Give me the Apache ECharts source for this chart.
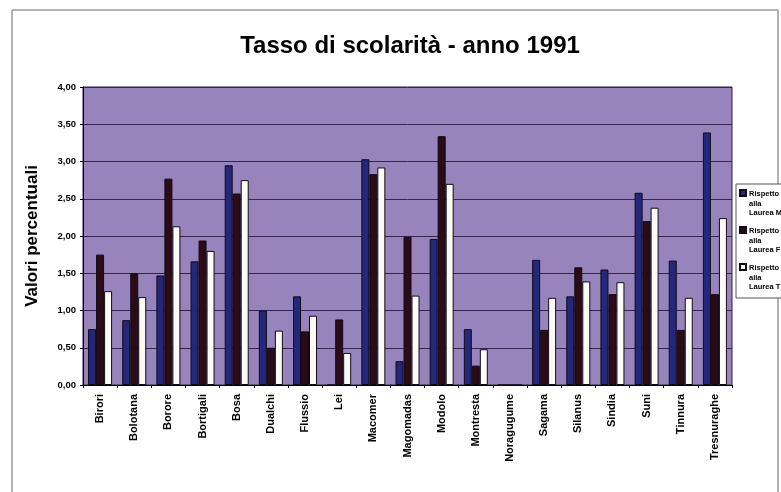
<!DOCTYPE html>
<html>
<head>
<meta charset="utf-8">
<title>Tasso di scolarità - anno 1991</title>
<script src="https://cdn.jsdelivr.net/npm/echarts@6/dist/echarts.min.js"></script>
<style>
  html, body { margin: 0; padding: 0; background: #ffffff; }
  #chart { width: 781px; height: 492px; }
</style>
</head>
<body>
<div id="chart"></div>
<script>
// Comuni
var comuni = ['Birori', 'Bolotana', 'Borore', 'Bortigali', 'Bosa', 'Dualchi', 'Flussio', 'Lei',
  'Macomer', 'Magomadas', 'Modolo', 'Montresta', 'Noragugume', 'Sagama', 'Silanus', 'Sindia',
  'Suni', 'Tinnura', 'Tresnuraghe'];

// Valori percentuali per serie
var laureaM = [0.75, 0.87, 1.47, 1.66, 2.95, 1.00, 1.19, 0.00, 3.03, 0.32, 1.96, 0.75, 0.00, 1.68, 1.19, 1.55, 2.58, 1.67, 3.39];
var laureaF = [1.75, 1.50, 2.77, 1.94, 2.57, 0.50, 0.72, 0.88, 2.83, 1.99, 3.34, 0.26, 0.00, 0.74, 1.58, 1.22, 2.20, 0.74, 1.22];
var laureaT = [1.26, 1.18, 2.13, 1.80, 2.75, 0.73, 0.93, 0.43, 2.92, 1.20, 2.70, 0.48, 0.00, 1.17, 1.39, 1.38, 2.38, 1.17, 2.24];

var serieNomi = ['Rispetto alla Laurea M', 'Rispetto alla Laurea F', 'Rispetto alla Laurea T'];
var yTicks = [0, 0.5, 1, 1.5, 2, 2.5, 3, 3.5, 4];

var FONT = '"Liberation Sans", Arial, sans-serif';

function serie(nome, dati, colore) {
  return {
    name: nome,
    type: 'bar',
    data: dati,
    barWidth: 8,
    barGap: '0%',
    itemStyle: { color: colore, borderColor: '#120a16', borderWidth: 1 }
  };
}

var chart = echarts.init(document.getElementById('chart'), null, { renderer: 'canvas' });

chart.setOption({
  animation: false,
  backgroundColor: '#ffffff',
  title: {
    text: 'Tasso di scolarità - anno 1991',
    left: 405,
    textAlign: 'center',
    top: 29,
    textStyle: { fontFamily: FONT, fontWeight: 'bold', fontSize: 24, color: '#000000' }
  },
  graphic: [{
    type: 'rect',
    shape: { x: 12, y: 10, width: 766, height: 495 },
    style: { fill: 'none', stroke: '#6a6a6a', lineWidth: 1 },
    silent: true,
    z: 0
  }],
  legend: {
    orient: 'vertical',
    left: 736,
    top: 184,
    itemWidth: 6,
    itemHeight: 27,
    itemGap: 8,
    // small square drawn at the top of a tall icon box, so it sits beside the first line
    icon: 'path://M0,0L6,0L6,6L0,6Z M0,27L0.01,27Z',
    padding: [5, 30, 6, 3],
    borderColor: '#555555',
    borderWidth: 1,
    backgroundColor: '#ffffff',
    data: serieNomi,
    formatter: function (n) {
      var p = n.split(' ');
      return p[0] + '\n' + p[1] + '\n' + p[2] + ' ' + p[3];
    },
    textStyle: { fontFamily: FONT, fontWeight: 'bold', fontSize: 7.5, lineHeight: 9.5, color: '#000000', padding: [0, 0, 0, -2] }
  },
  grid: { left: 83, right: 49, top: 87, bottom: 107, show: true, backgroundColor: '#9784bd', borderColor: '#2e2440', borderWidth: 1 },
  xAxis: {
    type: 'category',
    data: comuni,
    boundaryGap: true,
    axisLine: { show: true, lineStyle: { color: '#000000', width: 1 } },
    axisTick: { show: true, length: 3, alignWithLabel: false, lineStyle: { color: '#000000' } },
    axisLabel: { rotate: 90, margin: 9, interval: 0, fontFamily: FONT, fontWeight: 'bold', fontSize: 11, color: '#000000' }
  },
  yAxis: {
    type: 'value',
    min: yTicks[0],
    max: yTicks[yTicks.length - 1],
    interval: 0.5,
    name: 'Valori percentuali',
    nameLocation: 'middle',
    nameGap: 42,
    nameTextStyle: { fontFamily: FONT, fontWeight: 'bold', fontSize: 17, color: '#000000' },
    axisLine: { show: true, lineStyle: { color: '#000000' } },
    axisTick: { show: true, length: 3, lineStyle: { color: '#000000' } },
    splitLine: { show: true, lineStyle: { color: '#33264a', width: 1 } },
    axisLabel: {
      margin: 7,
      fontFamily: FONT, fontWeight: 'bold', fontSize: 9.5, color: '#000000',
      formatter: function (v) { return v.toFixed(2).replace('.', ','); }
    }
  },
  series: [
    serie(serieNomi[0], laureaM, '#23287a'),
    serie(serieNomi[1], laureaF, '#2a0b16'),
    serie(serieNomi[2], laureaT, '#fbfbf6')
  ]
});
</script>
</body>
</html>
